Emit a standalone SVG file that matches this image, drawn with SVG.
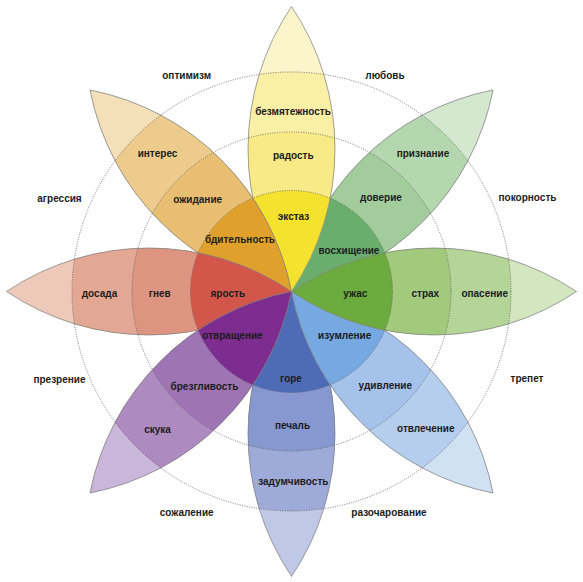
<svg xmlns="http://www.w3.org/2000/svg" xmlns:xlink="http://www.w3.org/1999/xlink" width="583" height="582" viewBox="0 0 583 582">
<style>
.t{font-family:"Liberation Sans",Arial,sans-serif;font-weight:bold;font-size:10px;fill:#1c1c1c;text-anchor:middle}
.ol{fill:none;stroke:#7a7a7a;stroke-width:0.7}
.dot{fill:none;stroke:#555;stroke-width:0.8;stroke-dasharray:1 1.4}
</style>
<defs>
<path id="lens" d="M291.5 291.5 A255.2 255.2 0 0 1 291.5 6.5 A255.2 255.2 0 0 1 291.5 291.5 Z"/>
<clipPath id="lc"><use xlink:href="#lens"/></clipPath>
</defs>
<rect width="583" height="582" fill="#fff"/>

<g id="sadness">
<g transform="rotate(180 291.5 291.5)">
<g clip-path="url(#lc)">
<circle cx="291.5" cy="291.5" r="290" fill="#C0C8E7"/>
<circle cx="291.5" cy="291.5" r="219.5" fill="#9EABD8"/>
<circle cx="291.5" cy="291.5" r="159.5" fill="#8797D0"/>
<circle cx="291.5" cy="291.5" r="101" fill="#4D6BB7"/>
</g>
<use xlink:href="#lens" class="ol"/>
</g>
<text class="t" x="291" y="381.5">горе</text>
<text class="t" x="292.5" y="428.5">печаль</text>
<text class="t" x="293.3" y="484.5">задумчивость</text>
</g>

<g id="trust">
<g transform="rotate(45 291.5 291.5)">
<g clip-path="url(#lc)">
<circle cx="291.5" cy="291.5" r="290" fill="#D3E8CF"/>
<circle cx="291.5" cy="291.5" r="219.5" fill="#B5D7AF"/>
<circle cx="291.5" cy="291.5" r="159.5" fill="#A2CC9C"/>
<circle cx="291.5" cy="291.5" r="101" fill="#69AE6D"/>
</g>
<use xlink:href="#lens" class="ol"/>
</g>
<text class="t" x="349" y="254">восхищение</text>
<text class="t" x="381" y="201.2">доверие</text>
<text class="t" x="423" y="156.5">признание</text>
</g>

<g id="surprise">
<g transform="rotate(135 291.5 291.5)">
<g clip-path="url(#lc)">
<circle cx="291.5" cy="291.5" r="290" fill="#D0E1F4"/>
<circle cx="291.5" cy="291.5" r="219.5" fill="#B6CEEE"/>
<circle cx="291.5" cy="291.5" r="159.5" fill="#A5C2EA"/>
<circle cx="291.5" cy="291.5" r="101" fill="#76A8E1"/>
</g>
<use xlink:href="#lens" class="ol"/>
</g>
<text class="t" x="344.7" y="339.2">изумление</text>
<text class="t" x="385.3" y="389.2">удивление</text>
<text class="t" x="425.8" y="431.8">отвлечение</text>
</g>

<g id="fear">
<g transform="rotate(90 291.5 291.5)">
<g clip-path="url(#lc)">
<circle cx="291.5" cy="291.5" r="290" fill="#D2E6BF"/>
<circle cx="291.5" cy="291.5" r="219.5" fill="#B4D597"/>
<circle cx="291.5" cy="291.5" r="159.5" fill="#A2C97C"/>
<circle cx="291.5" cy="291.5" r="101" fill="#6CAC3E"/>
</g>
<use xlink:href="#lens" class="ol"/>
</g>
<text class="t" x="355.3" y="296.8">ужас</text>
<text class="t" x="425.3" y="296.8">страх</text>
<text class="t" x="484.7" y="296.8">опасение</text>
</g>

<g id="joy">
<g>
<g clip-path="url(#lc)">
<circle cx="291.5" cy="291.5" r="290" fill="#FBF5CB"/>
<circle cx="291.5" cy="291.5" r="219.5" fill="#F9EFA5"/>
<circle cx="291.5" cy="291.5" r="159.5" fill="#F7EA87"/>
<circle cx="291.5" cy="291.5" r="101" fill="#F4E22E"/>
</g>
<use xlink:href="#lens" class="ol"/>
</g>
<text class="t" x="293" y="114.5">безмятежность</text>
<text class="t" x="293.3" y="159.2">радость</text>
<text class="t" x="293.5" y="219.5">экстаз</text>
</g>

<g id="anticipation">
<g transform="rotate(315 291.5 291.5)">
<g clip-path="url(#lc)">
<circle cx="291.5" cy="291.5" r="290" fill="#F3E0B8"/>
<circle cx="291.5" cy="291.5" r="219.5" fill="#EDCB8C"/>
<circle cx="291.5" cy="291.5" r="159.5" fill="#E8BE72"/>
<circle cx="291.5" cy="291.5" r="101" fill="#E0A12C"/>
</g>
<use xlink:href="#lens" class="ol"/>
</g>
<text class="t" x="240" y="242.5">бдительность</text>
<text class="t" x="197.7" y="202.8">ожидание</text>
<text class="t" x="157.5" y="156.8">интерес</text>
</g>

<g id="anger">
<g transform="rotate(270 291.5 291.5)">
<g clip-path="url(#lc)">
<circle cx="291.5" cy="291.5" r="290" fill="#EDC9B9"/>
<circle cx="291.5" cy="291.5" r="219.5" fill="#E3A894"/>
<circle cx="291.5" cy="291.5" r="159.5" fill="#DD9480"/>
<circle cx="291.5" cy="291.5" r="101" fill="#D2574A"/>
</g>
<use xlink:href="#lens" class="ol"/>
</g>
<text class="t" x="227.8" y="296.8">ярость</text>
<text class="t" x="159.7" y="296.8">гнев</text>
<text class="t" x="99.5" y="296.8">досада</text>
</g>

<g id="disgust">
<g transform="rotate(225 291.5 291.5)">
<g clip-path="url(#lc)">
<circle cx="291.5" cy="291.5" r="290" fill="#CBB6DB"/>
<circle cx="291.5" cy="291.5" r="219.5" fill="#AD8BC1"/>
<circle cx="291.5" cy="291.5" r="159.5" fill="#9F74B4"/>
<circle cx="291.5" cy="291.5" r="101" fill="#7D2D8F"/>
</g>
<use xlink:href="#lens" class="ol"/>
</g>
<text class="t" x="232.5" y="339.2">отвращение</text>
<text class="t" x="204.5" y="390.2">брезгливость</text>
<text class="t" x="157.5" y="432.5">скука</text>
</g>

<g id="rings">
<circle class="dot" cx="291.5" cy="291.5" r="101"/>
<circle class="dot" cx="291.5" cy="291.5" r="159.5"/>
<circle class="dot" cx="291.5" cy="291.5" r="219.5"/>
</g>

<g id="dyads">
<text class="t" x="186.7" y="78.5">оптимизм</text>
<text class="t" x="385" y="78.5">любовь</text>
<text class="t" x="59.5" y="201.8">агрессия</text>
<text class="t" x="527.5" y="201.2">покорность</text>
<text class="t" x="59.5" y="382.5">презрение</text>
<text class="t" x="527" y="381.8">трепет</text>
<text class="t" x="186.7" y="515.8">сожаление</text>
<text class="t" x="389" y="515.8">разочарование</text>
</g>
</svg>
